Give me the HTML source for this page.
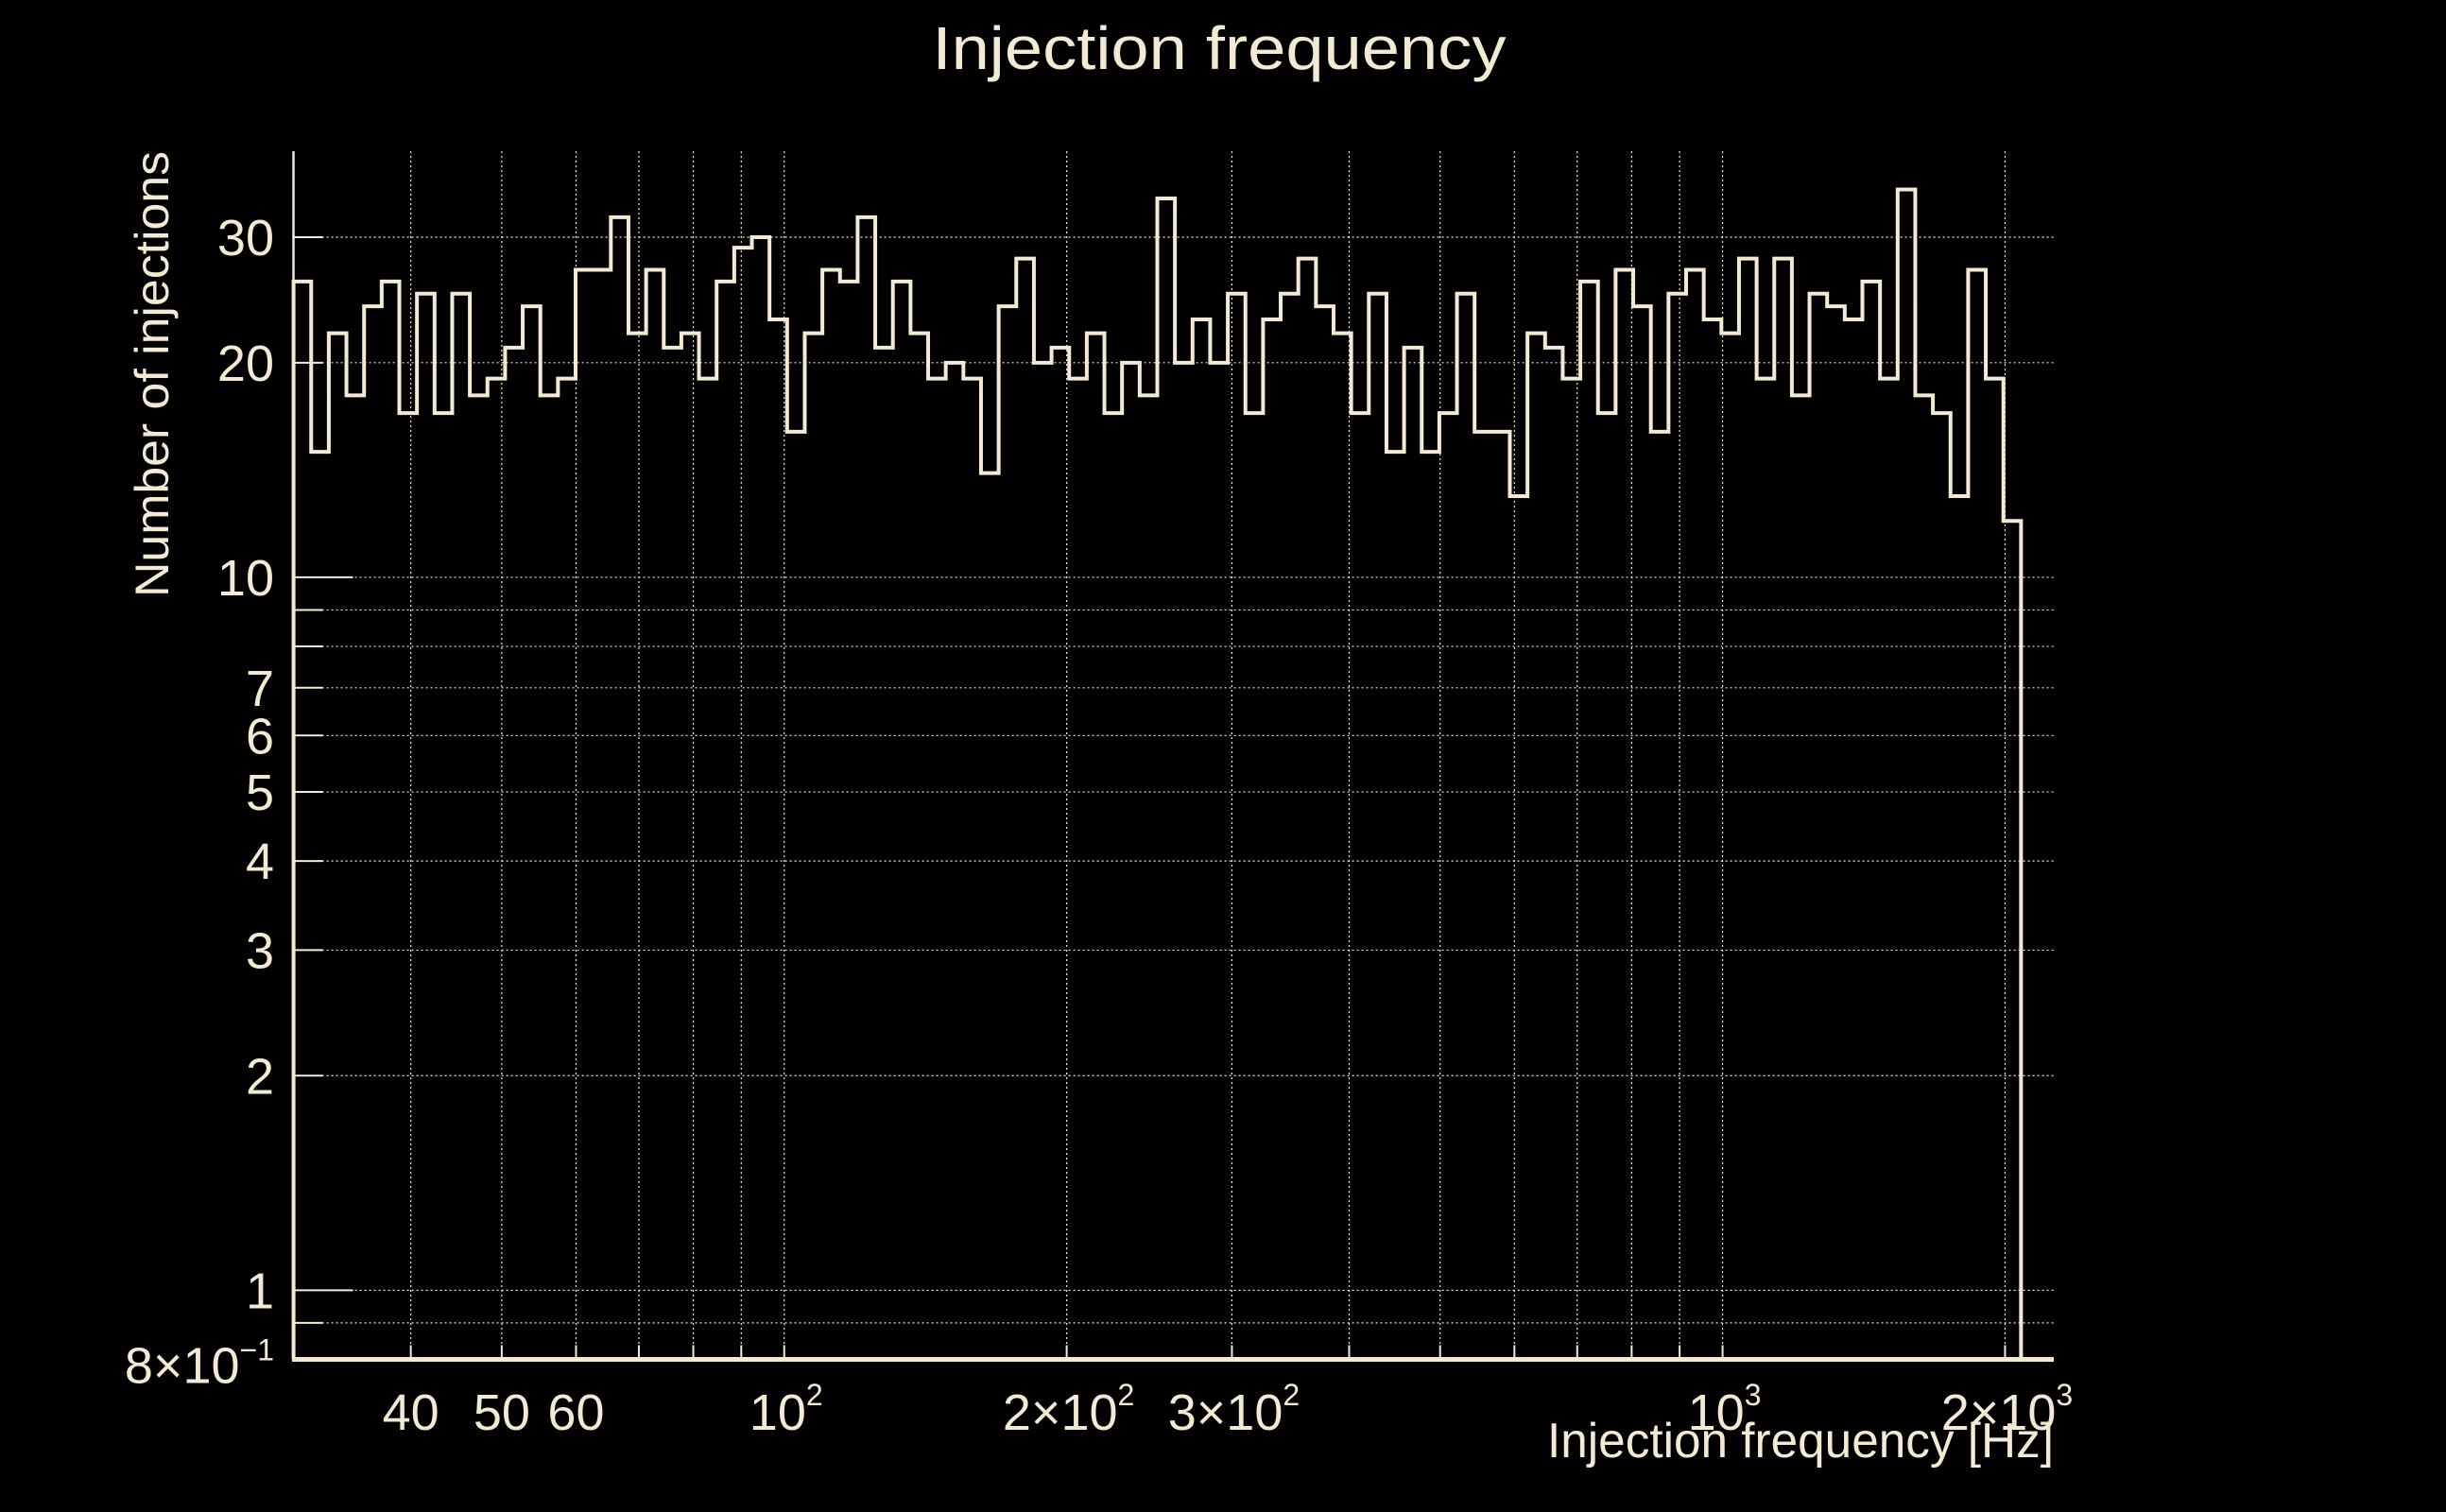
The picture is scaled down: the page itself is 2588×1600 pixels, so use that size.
<!DOCTYPE html>
<html><head><meta charset="utf-8"><style>
html,body{margin:0;padding:0;background:#000;}
svg{display:block;}
text{font-family:"Liberation Sans",sans-serif;fill:#f3ead3;}
</style></head><body>
<svg id="chart" width="2588" height="1600" viewBox="0 0 2588 1600" xmlns="http://www.w3.org/2000/svg">
<rect x="0" y="0" width="2588" height="1600" fill="#000"/>
<text x="1290" y="73" font-size="64" text-anchor="middle" textLength="607" lengthAdjust="spacingAndGlyphs">Injection frequency</text>
<g id="grid"></g>
<g id="ticks"></g>
<g id="labels"></g>
<path id="hist" fill="none" stroke="#f3ead3" stroke-width="4"/>
<line x1="310.5" y1="160" x2="310.5" y2="1440" stroke="#f3ead3" stroke-width="2.5"/>
<line x1="309" y1="1438.5" x2="2173" y2="1438.5" stroke="#f3ead3" stroke-width="5"/>
<text transform="translate(178,160) rotate(-90)" font-size="50" text-anchor="end" textLength="472" lengthAdjust="spacingAndGlyphs">Number of injections</text>
<text x="2173" y="1542" font-size="52" text-anchor="end" textLength="536" lengthAdjust="spacingAndGlyphs">Injection frequency [Hz]</text>
</svg>
<script>
const counts = [26,15,22,18,24,26,17,25,17,25,18,19,21,24,18,19,27,27,32,22,27,21,22,19,26,29,30,23,16,22,
27,26,32,21,26,22,19,20,19,14,24,28,20,21,19,22,17,20,18,34,20,23,20,25,17,
23,25,28,24,22,17,25,15,21,15,17,25,16,16,13,22,21,19,26,17,27,24,16,25,
27,23,22,28,19,28,18,25,24,23,26,19,35,18,17,13,27,19,12];
const binMin = 30;
const binMax = 2080;
const yGridVals = [30,20,10,9,8,7,6,5,4,3,2,1,0.9];
const yLabelVals = [30,20,10,7,6,5,4,3,2,1];
const yLongTicks = [10,1];
const xGridVals = [40,50,60,70,80,90,100,200,300,400,500,600,700,800,900,1000,2000];
const xLabelVals = [40,50,60];
const xPowLabels = [[1,2],[2,2],[3,2],[1,3],[2,3]];

const X0=310.6, X1=2173, XMIN=30, XMAX=2254;
const Y0=1438.5, YMIN=0.8, YMAX=39.6, YTOP=160;
function xs(f){return X0+(X1-X0)*Math.log10(f/XMIN)/Math.log10(XMAX/XMIN);}
function ys(v){return Y0-(Y0-YTOP)*Math.log10(v/YMIN)/Math.log10(YMAX/YMIN);}
const NS="http://www.w3.org/2000/svg";
function mk(tag,attrs,parent){const e=document.createElementNS(NS,tag);for(const k in attrs)e.setAttribute(k,attrs[k]);parent.appendChild(e);return e;}
const grid=document.getElementById('grid'), ticks=document.getElementById('ticks'), labels=document.getElementById('labels');
const C="#f3ead3";
yGridVals.forEach(v=>{
  const y=ys(v);
  const l=mk('line',{x1:X0,y1:y,x2:X1,y2:y,stroke:C,'stroke-width':1.2,'stroke-dasharray':'2,3'},grid);
  
  
  const len=yLongTicks.includes(v)?63:31;
  const t=mk('line',{x1:X0,y1:y,x2:X0+len,y2:y,stroke:C,'stroke-width':2},ticks);
  
  
});
xGridVals.forEach(f=>{
  const x=xs(f);
  const l=mk('line',{x1:x,y1:YTOP,x2:x,y2:Y0,stroke:C,'stroke-width':1.2,'stroke-dasharray':'2,3'},grid);
  
  
  const t=mk('line',{x1:x,y1:Y0-15,x2:x,y2:Y0,stroke:C,'stroke-width':2},ticks);
  
  
});
yLabelVals.forEach(v=>{
  const t=mk('text',{x:290,y:ys(v)+19,'font-size':54,'text-anchor':'end'},labels);
  t.textContent=String(v);
  
  
});
{
  const t=mk('text',{x:290,y:ys(0.8)+25,'font-size':54,'text-anchor':'end'},labels);
  t.innerHTML='8×10<tspan font-size="32" dy="-24">−1</tspan>';
  
  
}
xLabelVals.forEach(f=>{
  const t=mk('text',{x:xs(f),y:1513,'font-size':54,'text-anchor':'middle'},labels);
  t.textContent=String(f);
  
  
});
xPowLabels.forEach(p=>{
  const f=p[0]*Math.pow(10,p[1]);
  const t=mk('text',{x:xs(f)+2,y:1513,'font-size':54,'text-anchor':'middle'},labels);
  t.innerHTML=(p[0]===1?'':p[0]+'×')+'10<tspan font-size="32" dy="-26">'+p[1]+'</tspan>';
  
  
});
const n=counts.length;
const edge=i=>xs(binMin*Math.pow(binMax/binMin,i/n));
let d='M'+edge(0)+','+Y0;
counts.forEach((c,i)=>{const y=ys(c);d+=' L'+edge(i)+','+y+' L'+edge(i+1)+','+y;});
d+=' L'+edge(n)+','+Y0;
document.getElementById('hist').setAttribute('d',d);
</script>
</body></html>
